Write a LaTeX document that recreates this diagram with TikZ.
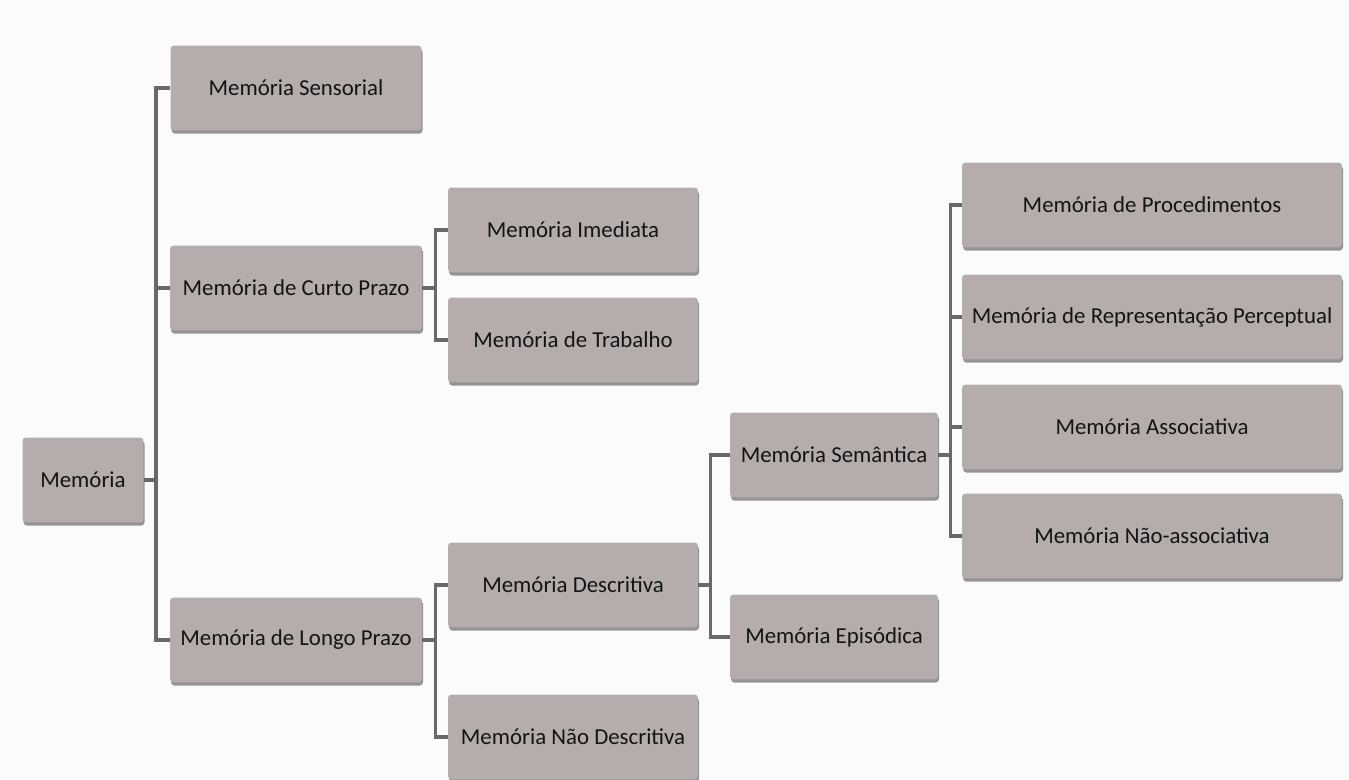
\documentclass[tikz,border=0pt]{standalone}
\usepackage{fontspec}
\setmainfont{Carlito}
\usetikzlibrary{shadows}
\definecolor{fundo}{RGB}{252,251,252}
\definecolor{caixacor}{RGB}{181,172,172}
\definecolor{linhacor}{RGB}{105,105,105}
\definecolor{textocor}{RGB}{20,20,20}

\begin{document}
\begin{tikzpicture}[x=0.02cm, y=-0.02cm,
		caixa/.style={fill=caixacor, rounded corners=2pt, inner sep=0pt, minimum height=1.7cm,
			text=textocor, font=\fontsize{13}{15}\selectfont,
			drop shadow={shadow xshift=0.6pt, shadow yshift=-1.8pt, fill=black!75, opacity=0.55}},
		ligacao/.style={draw=linhacor, line width=2pt}]

				\fill [fundo] (0, 0) rectangle (1349, 778);

				\node [caixa, minimum width=2.42cm] (M) at (83, 480) {Memória};

				\node [caixa, minimum width=5.02cm] (MS) at (296, 88) {Memória Sensorial};
				\node [caixa, minimum width=5.04cm] (MCP) at (296, 288) {Memória de Curto Prazo};
				\node [caixa, minimum width=5.04cm] (MLP) at (296, 640) {Memória de Longo Prazo};

				\node [caixa, minimum width=5.0cm] (MI) at (573, 230) {Memória Imediata};
				\node [caixa, minimum width=5.0cm] (MT) at (573, 340) {Memória de Trabalho};
				\node [caixa, minimum width=5.0cm] (MD) at (573, 585) {Memória Descritiva};
				\node [caixa, minimum width=5.0cm] (MND) at (573, 737) {Memória Não Descritiva};

				\node [caixa, minimum width=4.16cm] (MSe) at (834, 455) {Memória Semântica};
				\node [caixa, minimum width=4.16cm] (ME) at (834, 637) {Memória Episódica};

				\node [caixa, minimum width=7.6cm] (MP) at (1152, 205) {Memória de Procedimentos};
				\node [caixa, minimum width=7.6cm] (MR) at (1152, 317) {Memória de Representação Perceptual};
				\node [caixa, minimum width=7.6cm] (MA) at (1152, 427) {Memória Associativa};
				\node [caixa, minimum width=7.6cm] (MNA) at (1152, 536) {Memória Não-associativa};

				%------
				\draw [ligacao] (M.east) -- +(12, 0) |- (MS.west);
				\draw [ligacao] (M.east) -- +(12, 0) |- (MCP.west);
				\draw [ligacao] (M.east) -- +(12, 0) |- (MLP.west);

				\draw [ligacao] (MCP.east) -- +(13, 0) |- (MI.west);
				\draw [ligacao] (MCP.east) -- +(13, 0) |- (MT.west);

				\draw [ligacao] (MLP.east) -- +(13, 0) |- (MD.west);
				\draw [ligacao] (MLP.east) -- +(13, 0) |- (MND.west);

				\draw [ligacao] (MD.east) -- +(12, 0) |- (MSe.west);
				\draw [ligacao] (MD.east) -- +(12, 0) |- (ME.west);

				\draw [ligacao] (MSe.east) -- +(12, 0) |- (MP.west);
				\draw [ligacao] (MSe.east) -- +(12, 0) |- (MR.west);
				\draw [ligacao] (MSe.east) -- +(12, 0) |- (MA.west);
				\draw [ligacao] (MSe.east) -- +(12, 0) |- (MNA.west);

				\useasboundingbox (0, 0) rectangle (1349, 778);
		\end{tikzpicture}
\end{document}
